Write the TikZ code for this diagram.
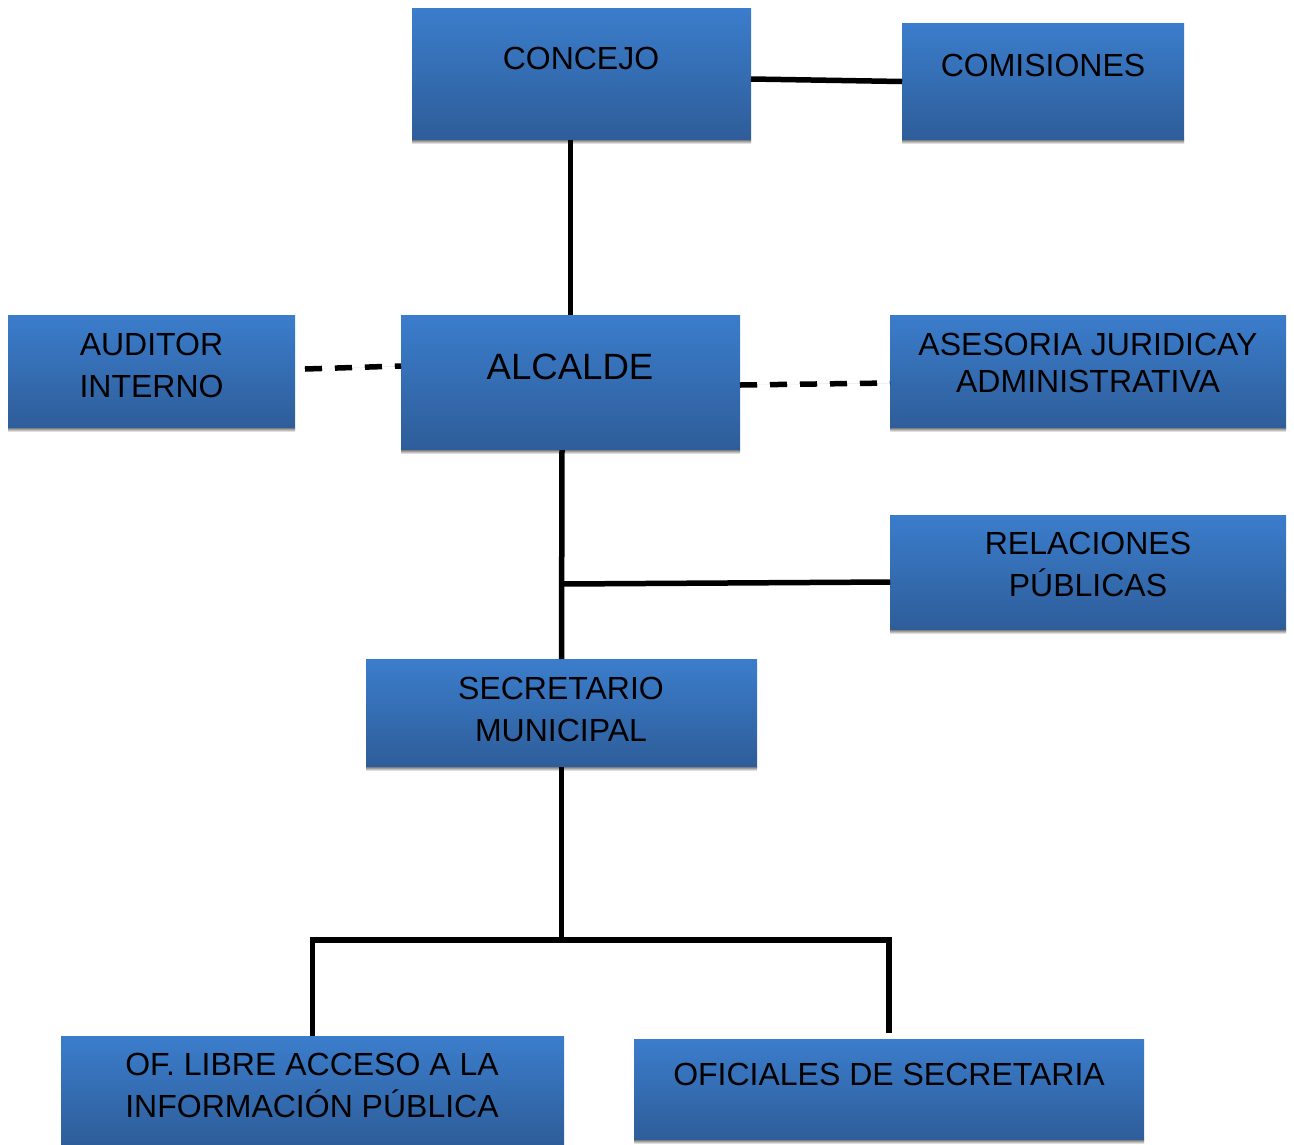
\documentclass[tikz,border=0pt]{standalone}
\usepackage{fontspec}
\setmainfont{Liberation Sans}
\usetikzlibrary{calc}
\definecolor{boxtop}{RGB}{59,125,204}
\definecolor{boxbottom}{RGB}{46,93,153}
\definecolor{shade}{RGB}{168,168,168}
\begin{document}
\begin{tikzpicture}[x=1pt,y=-1pt,
  orgbox/.style={anchor=north west, inner sep=0pt, outer sep=0pt,
    top color=boxtop, bottom color=boxbottom, draw=none},
  label32/.style={anchor=base, inner sep=0pt, font=\fontsize{32}{42}\selectfont},
  link/.style={line width=5.5pt, black},
  linkshade/.style={line width=4pt, shade, yshift=-3pt},
  dashlink/.style={link, dash pattern=on 17pt off 13pt},
  dashshade/.style={linkshade, dash pattern=on 17pt off 13pt}]
\useasboundingbox (0,0) rectangle (1294,1144);

% boxes
\node[orgbox, minimum width=339pt, minimum height=132pt] (concejo) at (412,8) {};
\node[orgbox, minimum width=282pt, minimum height=117pt] (comisiones) at (902,23) {};
\node[orgbox, minimum width=287pt, minimum height=113pt] (auditor) at (8,315) {};
\node[orgbox, minimum width=339pt, minimum height=135pt] (alcalde) at (401,315) {};
\node[orgbox, minimum width=396pt, minimum height=113pt] (asesoria) at (890,315) {};
\node[orgbox, minimum width=396pt, minimum height=115pt] (relaciones) at (890,515) {};
\node[orgbox, minimum width=391pt, minimum height=108pt] (secretario) at (366,659) {};
\node[orgbox, minimum width=503pt, minimum height=110pt] (oflibre) at (61,1036) {};
\node[orgbox, minimum width=510pt, minimum height=101pt] (oficiales) at (634,1039) {};

% grey strips under the boxes
\foreach \b in {concejo,comisiones,auditor,alcalde,asesoria,relaciones,secretario,oficiales}
  \fill[shade] (\b.south west) rectangle ([yshift=-4pt]\b.south east);

% box texts
\node[label32] (tconcejo) at (581,69) {CONCEJO};
\node[label32] (tcomisiones) at (1043,76) {COMISIONES};
\node[label32] (tauditor) at (151.5,355) {\begin{tabular}[t]{@{}c@{}}AUDITOR\\INTERNO\end{tabular}};
\node[anchor=base, inner sep=0pt, font=\fontsize{36.6}{44}\selectfont] (talcalde) at (570,379) {ALCALDE};
\node[anchor=base, inner sep=0pt, font=\fontsize{32}{37}\selectfont] (tasesoria) at (1088,355)
  {\begin{tabular}[t]{@{}c@{}}ASESORIA JURIDICAY\\ADMINISTRATIVA\end{tabular}};
\node[label32] (trelaciones) at (1088,554) {\begin{tabular}[t]{@{}c@{}}RELACIONES\\PÚBLICAS\end{tabular}};
\node[label32] (tsecretario) at (561,699) {\begin{tabular}[t]{@{}c@{}}SECRETARIO\\MUNICIPAL\end{tabular}};
\node[label32] (toflibre) at (312,1075) {\begin{tabular}[t]{@{}c@{}}OF. LIBRE ACCESO A LA\\INFORMACIÓN PÚBLICA\end{tabular}};
\node[label32] (toficiales) at (889,1085) {OFICIALES DE SECRETARIA};

% junction points
\coordinate (branchR) at (562,584);
\coordinate (bus) at (562,940);

% connector shadows
\draw[linkshade] ([yshift=-5pt]concejo.east) -- (comisiones.west);
\draw[dashshade] ([xshift=10pt,yshift=2.5pt]auditor.east) -- ([yshift=16.5pt]alcalde.west);
\draw[dashshade] ([yshift=-2.5pt]alcalde.east) -- ([yshift=-11.5pt]asesoria.west);
\draw[linkshade] (branchR) -- ([yshift=-9.5pt]relaciones.west);

% connectors
\draw[link] ([yshift=-5pt]concejo.east) -- (comisiones.west);
\draw[link] (alcalde.north) -- (alcalde.north |- concejo.south);
\draw[dashlink] ([xshift=10pt,yshift=2.5pt]auditor.east) -- ([yshift=16.5pt]alcalde.west);
\draw[dashlink] ([yshift=-2.5pt]alcalde.east) -- ([yshift=-11.5pt]asesoria.west);
\draw[link] ([xshift=-8.5pt]alcalde.south) -- (secretario.north);
\draw[link] (branchR) -- ([yshift=-9.5pt]relaciones.west);
\draw[link] (secretario.south) -- (secretario.south |- bus);
\draw[link, line cap=rect] (oflibre.north |- bus) -- (oficiales.north |- bus);
\draw[link] (oflibre.north |- bus) -- (oflibre.north);
\draw[link] (oficiales.north |- bus) -- ([yshift=6pt]oficiales.north);
\end{tikzpicture}
\end{document}
